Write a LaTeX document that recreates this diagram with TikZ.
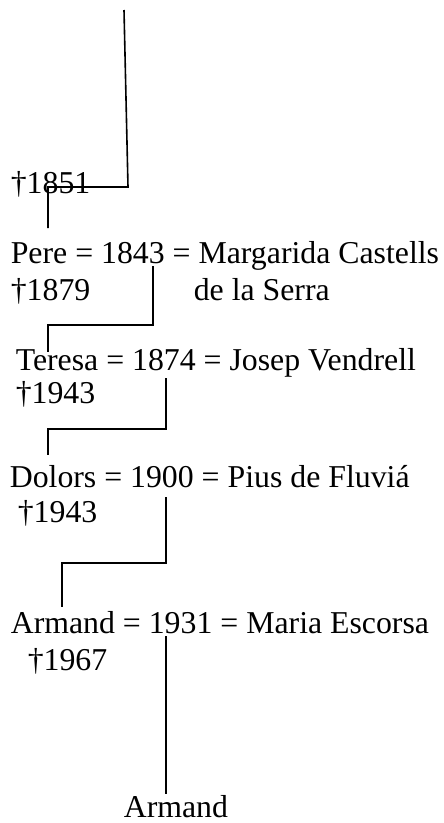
\documentclass[tikz,border=0pt]{standalone}
\usepackage{fontspec}
\setmainfont{Liberation Serif}
\begin{document}
\begin{tikzpicture}[x=1pt, y=-1pt, line width=1.6pt,
	txt/.style={anchor=base west, inner sep=0pt, font=\fontsize{31.8}{38}\selectfont}]
	\useasboundingbox (0,0) rectangle (444,823);
	
	\node[txt] (d1851) at (10,193) {†1851};
	\node[txt] (pere) at (10,263) {Pere = 1843 = Margarida Castells};
	\node[txt] (d1879) at (10,300) {†1879};
	\node[txt] (serra) at (193,300) {de la Serra};
	\node[txt] (teresa) at (15,370) {Teresa = 1874 = Josep Vendrell};
	\node[txt] (d1943a) at (15,403) {†1943};
	\node[txt] (dolors) at (9,487) {Dolors = 1900 = Pius de Fluviá};
	\node[txt] (d1943b) at (17,522) {†1943};
	\node[txt] (armand) at (10,633) {Armand = 1931 = Maria Escorsa};
	\node[txt] (d1967) at (27,670) {†1967};
	\node[txt] (fill) at (123,817) {Armand};
	
	\coordinate (top) at (124,10);
	\coordinate (c1843) at (153,266);
	\coordinate (c1874) at (166,378);
	\coordinate (c1900) at (166,497);
	\coordinate (c1931) at (166,636);
	\coordinate (e1) at (48,228);
	\coordinate (e2) at (48,352);
	\coordinate (e3) at (48,455);
	\coordinate (e4) at (62,607);
	
	\draw (top) -- (128,187) -| (e1);
	\draw (c1843) |- (48,325) -- (e2);
	\draw (c1874) |- (48,429) -- (e3);
	\draw (c1900) |- (62,563) -- (e4);
	\draw (c1931) -- (c1931 |- fill.north);
	
\end{tikzpicture}
\end{document}
